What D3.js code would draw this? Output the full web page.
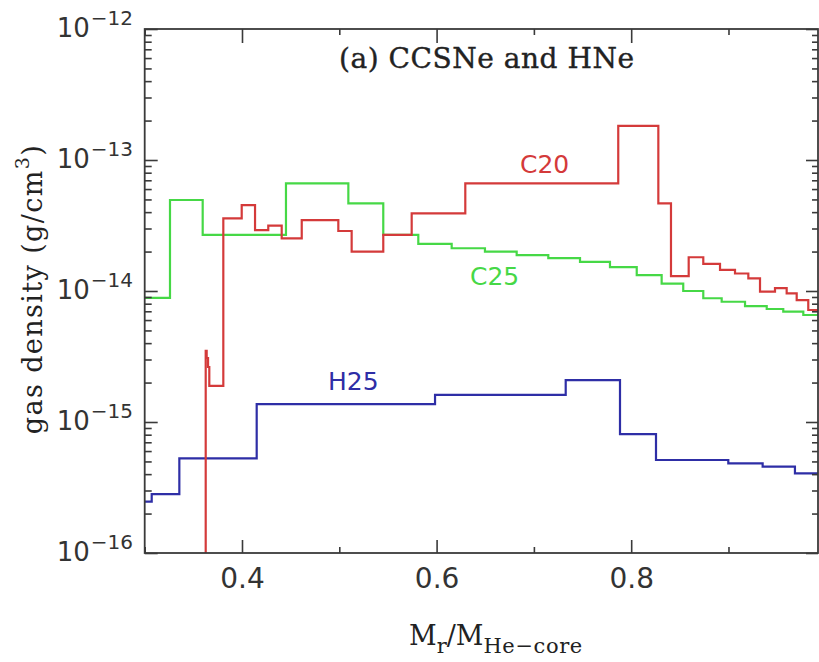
<!DOCTYPE html>
<html><head><meta charset="utf-8">
<script src="https://cdn.jsdelivr.net/npm/d3@7"></script>
<style>body{margin:0;background:#fff}</style>
</head><body><svg id="c" width="819" height="662"></svg>
<script>
// ---- data ----
const xMajorTicks = [0.4, 0.6, 0.8];
const xMinorTicks = [0.3, 0.5, 0.7, 0.9];
const yDecadeExps = [-16, -15, -14, -13, -12];
const xTickLabels = ["0.4", "0.6", "0.8"];

// bin edges (last entry = right end) and densities (g/cm^3)
const c25Edges = [0.300, 0.326, 0.3596, 0.4452, 0.5093, 0.5452, 0.5812, 0.6155, 0.6497, 0.6823, 0.7148, 0.7474, 0.7782, 0.8057, 0.8313, 0.8535, 0.8741, 0.8930, 0.9170, 0.9393, 0.9563, 0.9769, 0.992];
const c25Vals  = [8.85e-15, 4.95e-14, 2.68e-14, 6.64e-14, 4.67e-14, 2.68e-14, 2.29e-14, 2.12e-14, 2.00e-14, 1.88e-14, 1.78e-14, 1.67e-14, 1.52e-14, 1.32e-14, 1.14e-14, 1.00e-14, 8.8e-15, 8.28e-15, 7.67e-15, 7.29e-15, 6.95e-15, 6.56e-15];

const c20Edges = [0.300, 0.3627, 0.3637, 0.3651, 0.3664, 0.3808, 0.3997, 0.4134, 0.4270, 0.4408, 0.4614, 0.4990, 0.5127, 0.5452, 0.5744, 0.6295, 0.7867, 0.8279, 0.8409, 0.8591, 0.8741, 0.8913, 0.9067, 0.9204, 0.9324, 0.9478, 0.9598, 0.9701, 0.9820, 0.992];
const c20Vals  = [1e-18, 3.5e-15, 3.08e-15, 2.63e-15, 1.89e-15, 3.59e-14, 4.53e-14, 2.92e-14, 3.15e-14, 2.52e-14, 3.48e-14, 2.87e-14, 2.00e-14, 2.68e-14, 3.92e-14, 6.64e-14, 1.82e-13, 4.67e-14, 1.30e-14, 1.81e-14, 1.61e-14, 1.45e-14, 1.36e-14, 1.25e-14, 9.88e-15, 1.05e-14, 9.6e-15, 8.53e-15, 7.16e-15];

const h25Edges = [0.300, 0.3072, 0.3356, 0.4151, 0.5984, 0.7327, 0.7885, 0.8255, 0.8998, 0.9351, 0.9683, 0.992];
const h25Vals  = [2.47e-16, 2.81e-16, 5.28e-16, 1.37e-15, 1.61e-15, 2.09e-15, 8.09e-16, 5.13e-16, 4.84e-16, 4.56e-16, 4.06e-16];

const seriesNames = ["C20", "C25", "H25"];
const titleText = "(a) CCSNe and HNe";

// ---- layout ----
const L = 144.7, R = 818, T = 29, B = 553;
const svg = d3.select("#c");
const x = d3.scaleLinear().domain([0.3, 0.992]).range([L, R]);
const y = d3.scaleLog().domain([1e-16, 1e-12]).range([B, T]);

const axisColor = "#3a3a3a";
const numFont = "DejaVu Sans";
const serifFont = "DejaVu Serif";

svg.append("defs").append("clipPath").attr("id", "clip")
  .append("rect").attr("x", L).attr("y", T).attr("width", R - L).attr("height", B - T);

function stepPts(edges, vals) {
  const p = vals.map((v, i) => [edges[i], v]);
  p.push([edges[edges.length - 1], vals[vals.length - 1]]);
  return p;
}
const line = d3.line().x(d => x(d[0])).y(d => y(d[1])).curve(d3.curveStepAfter);

const colors = {C20: "#d43a3a", C25: "#46d846", H25: "#2e2ea6"};
const g = svg.append("g").attr("clip-path", "url(#clip)");
g.append("path").datum(stepPts(h25Edges, h25Vals)).attr("d", line)
  .attr("fill", "none").attr("stroke", colors.H25).attr("stroke-width", 2.2);
g.append("path").datum(stepPts(c25Edges, c25Vals)).attr("d", line)
  .attr("fill", "none").attr("stroke", colors.C25).attr("stroke-width", 2.2);
g.append("path").datum(stepPts(c20Edges, c20Vals)).attr("d", line)
  .attr("fill", "none").attr("stroke", colors.C20).attr("stroke-width", 2.2);

// ---- axes (ticks inward) ----
function styleAxis(sel) {
  sel.select(".domain").remove();
  sel.selectAll("line").attr("stroke", axisColor).attr("stroke-width", 1.6);
}
svg.append("g").attr("transform", `translate(0,${B})`)
  .call(d3.axisBottom(x).tickValues(xMajorTicks).tickSize(-13).tickPadding(15)
    .tickFormat((d, i) => xTickLabels[i]))
  .call(styleAxis)
  .call(s => s.selectAll("text").attr("font-family", numFont).attr("font-size", 28).attr("fill", "#333"));
svg.append("g").attr("transform", `translate(0,${B})`)
  .call(d3.axisBottom(x).tickValues(xMinorTicks).tickSize(-6).tickFormat("")).call(styleAxis);
svg.append("g").attr("transform", `translate(0,${T})`)
  .call(d3.axisTop(x).tickValues(xMajorTicks).tickSize(-14).tickFormat("")).call(styleAxis);
svg.append("g").attr("transform", `translate(0,${T})`)
  .call(d3.axisTop(x).tickValues(xMinorTicks).tickSize(-6).tickFormat("")).call(styleAxis);

const majorY = yDecadeExps.map(e => Math.pow(10, e));
const minorY = [];
yDecadeExps.slice(0, -1).forEach(e => { for (let k = 2; k <= 9; k++) minorY.push(k * Math.pow(10, e)); });

svg.append("g").attr("transform", `translate(${L},0)`)
  .call(d3.axisLeft(y).tickValues(majorY).tickSize(-13).tickFormat("")).call(styleAxis);
svg.append("g").attr("transform", `translate(${L},0)`)
  .call(d3.axisLeft(y).tickValues(minorY).tickSize(-7).tickFormat("")).call(styleAxis);
svg.append("g").attr("transform", `translate(${R},0)`)
  .call(d3.axisRight(y).tickValues(majorY).tickSize(-12).tickFormat("")).call(styleAxis);
svg.append("g").attr("transform", `translate(${R},0)`)
  .call(d3.axisRight(y).tickValues(minorY).tickSize(-6).tickFormat("")).call(styleAxis);

// y tick labels 10^n
const yl = svg.append("g").selectAll("text").data(yDecadeExps).join("text")
  .attr("x", 133).attr("y", d => y(Math.pow(10, d)) + 8)
  .attr("text-anchor", "end").attr("font-family", numFont).attr("fill", "#333");
yl.append("tspan").attr("font-size", 26).text("10");
yl.append("tspan").attr("font-size", 20).attr("dy", -12).attr("dx", 1).text(d => "\u2212" + Math.abs(d));

// frame
svg.append("rect").attr("x", L).attr("y", T).attr("width", R - L).attr("height", B - T)
  .attr("fill", "none").attr("stroke", axisColor).attr("stroke-width", 1.8);

// title
svg.append("text").attr("x", 339).attr("y", 68).attr("font-family", serifFont)
  .attr("font-size", 28).attr("fill", "#222").attr("stroke", "#222").attr("stroke-width", 0.4)
  .attr("textLength", 295).attr("lengthAdjust", "spacing")
  .text(titleText);

// series labels
const labelPos = {C20: [520, 173], C25: [470, 285], H25: [328, 390]};
seriesNames.forEach(n => {
  svg.append("text").attr("x", labelPos[n][0]).attr("y", labelPos[n][1])
    .attr("font-family", numFont).attr("font-size", 25).attr("fill", colors[n]).text(n);
});

// x axis label M_r / M_He-core
const xl = svg.append("text").attr("x", 409).attr("y", 645).attr("font-family", serifFont)
  .attr("fill", "#222").attr("font-size", 27);
xl.append("tspan").text("M");
xl.append("tspan").attr("font-size", 21).attr("dy", 8).text("r");
xl.append("tspan").attr("dy", -8).text("/M");
xl.append("tspan").attr("font-size", 21).attr("dy", 8).attr("letter-spacing", 0.6).text("He\u2212core");

// y axis label
const ylab = svg.append("text").attr("transform", "translate(42,289) rotate(-90)")
  .attr("text-anchor", "middle").attr("font-family", serifFont).attr("font-size", 27)
  .attr("letter-spacing", 1.4).attr("fill", "#222");
ylab.append("tspan").text("gas density (g/cm");
ylab.append("tspan").attr("font-size", 19).attr("dy", -13).text("3");
ylab.append("tspan").attr("dy", 13).text(")");
</script></body></html>
